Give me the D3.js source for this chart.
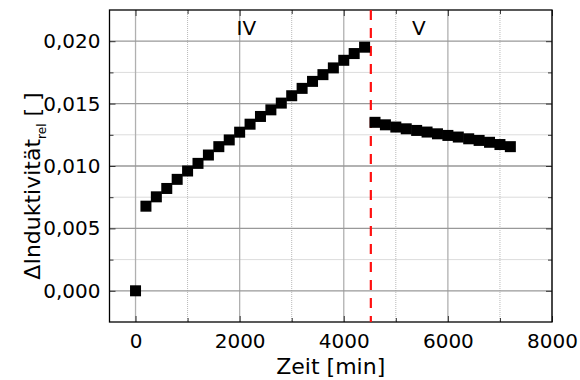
<!DOCTYPE html>
<html>
<head>
<meta charset="utf-8">
<script src="https://cdn.jsdelivr.net/npm/d3@7"></script>
<style>
  body { margin: 0; background: #fff; }
  text { font-family: "DejaVu Sans", Verdana, sans-serif; fill: #000; }
</style>
</head>
<body>
<svg id="chart" width="580" height="380"></svg>
<script>
// Phase IV (rising) and phase V (decaying), time in minutes
const startPoint = [0, 0.0];
const timesIV = [200, 400, 600, 800, 1000, 1200, 1400, 1600, 1800, 2000, 2200,
  2400, 2600, 2800, 3000, 3200, 3400, 3600, 3800, 4000, 4200, 4400];
const valuesIV = [0.00678, 0.00753, 0.00820, 0.00893, 0.00960, 0.01021, 0.01088,
  0.01155, 0.01209, 0.01271, 0.01335, 0.01397, 0.01450, 0.01504, 0.01563, 0.01622,
  0.01678, 0.01732, 0.01786, 0.01847, 0.01901, 0.01952];
const timesV = [4600, 4800, 5000, 5200, 5400, 5600, 5800, 6000, 6200, 6400, 6600, 6800, 7000, 7200];
const valuesV = [0.01350, 0.01330, 0.01312, 0.01298, 0.01285, 0.01272, 0.01258,
  0.01245, 0.01232, 0.01218, 0.01205, 0.01190, 0.01172, 0.01155];
const phaseBoundary = 4520;
const phaseLabels = [{name: "IV", t: 2130}, {name: "V", t: 5440}];
const xTicks = [0, 2000, 4000, 6000, 8000];
const yTicks = [0, 0.005, 0.010, 0.015, 0.020];

const mLeft = 109.5, mRight = 552, mTop = 10, mBottom = 322;
const svg = d3.select("#chart");

const x = d3.scaleLinear().domain([-500, 8000]).range([mLeft, mRight]);
const y = d3.scaleLinear().domain([-0.0025, 0.0225]).range([mBottom, mTop]);

const xMinor = d3.range(0, 8001, 1000).filter(d => !xTicks.includes(d));
const yMinor = [0.0025, 0.0075, 0.0125, 0.0175];
const fmt = d => d3.format(".3f")(d).replace(".", ",");

// minor grid
const grid = svg.append("g");
grid.selectAll(".mx").data(xMinor).enter().append("line")
  .attr("x1", d => x(d)).attr("x2", d => x(d)).attr("y1", mTop).attr("y2", mBottom)
  .attr("stroke", "#b8b8b8").attr("stroke-dasharray", "1,1");
grid.selectAll(".my").data(yMinor).enter().append("line")
  .attr("y1", d => y(d)).attr("y2", d => y(d)).attr("x1", mLeft).attr("x2", mRight)
  .attr("stroke", "#b8b8b8").attr("stroke-dasharray", "1,1");
// major grid
grid.selectAll(".Mx").data(xTicks).enter().append("line")
  .attr("x1", d => x(d)).attr("x2", d => x(d)).attr("y1", mTop).attr("y2", mBottom)
  .attr("stroke", "#b0b0b0").attr("stroke-width", 1.3);
grid.selectAll(".My").data(yTicks).enter().append("line")
  .attr("y1", d => y(d)).attr("y2", d => y(d)).attr("x1", mLeft).attr("x2", mRight)
  .attr("stroke", "#999").attr("stroke-width", 1.3);

// axes with inward ticks on all four sides
function axisPair(axisFn, scale, ticks, minor, transform, labelFmt) {
  const gMaj = svg.append("g").attr("transform", transform)
    .call(axisFn(scale).tickValues(ticks).tickSizeInner(-6).tickSizeOuter(0)
      .tickFormat(labelFmt || ""));
  gMaj.select(".domain").remove();
  gMaj.selectAll("line").attr("stroke", "#333");
  const gMin = svg.append("g").attr("transform", transform)
    .call(axisFn(scale).tickValues(minor).tickSizeInner(-4).tickSizeOuter(0).tickFormat(""));
  gMin.select(".domain").remove();
  gMin.selectAll("line").attr("stroke", "#333");
  return gMaj;
}
const xAx = axisPair(d3.axisBottom, x, xTicks, xMinor, `translate(0,${mBottom})`, d3.format("d"));
xAx.selectAll("text").attr("font-size", 20).attr("y", 7).attr("dy", "0.95em")
  .style("font-family", "DejaVu Sans");
axisPair(d3.axisTop, x, xTicks, xMinor, `translate(0,${mTop})`, null);
const yAx = axisPair(d3.axisLeft, y, yTicks, yMinor, `translate(${mLeft},0)`, fmt);
yAx.selectAll("text").attr("font-size", 20).attr("x", -9)
  .style("font-family", "DejaVu Sans");
axisPair(d3.axisRight, y, yTicks, yMinor, `translate(${mRight},0)`, null);

// frame
svg.append("rect").attr("x", mLeft).attr("y", mTop)
  .attr("width", mRight - mLeft).attr("height", mBottom - mTop)
  .attr("fill", "none").attr("stroke", "#000").attr("stroke-width", 1.3);

// phase boundary
svg.append("line")
  .attr("x1", x(phaseBoundary)).attr("x2", x(phaseBoundary))
  .attr("y1", mTop).attr("y2", mBottom)
  .attr("stroke", "#ff1010").attr("stroke-width", 2.2).attr("stroke-dasharray", "10,8");

svg.selectAll(".phase").data(phaseLabels).enter().append("text")
  .attr("x", d => x(d.t)).attr("y", 35)
  .attr("text-anchor", "middle").attr("font-size", 20).text(d => d.name);

// data markers
const pts = [startPoint]
  .concat(timesIV.map((t, i) => [t, valuesIV[i]]))
  .concat(timesV.map((t, i) => [t, valuesV[i]]));
const s = 11;
svg.append("g").selectAll("rect").data(pts).enter().append("rect")
  .attr("x", d => x(d[0]) - s / 2).attr("y", d => y(d[1]) - s / 2)
  .attr("width", s).attr("height", s).attr("fill", "#000");

// axis titles
svg.append("text").attr("x", (mLeft + mRight) / 2).attr("y", 374)
  .attr("text-anchor", "middle").attr("font-size", 22).text("Zeit [min]");

const yt = svg.append("text")
  .attr("transform", `translate(40,186) rotate(-90)`)
  .attr("text-anchor", "middle").attr("font-size", 22);
yt.append("tspan").text("ΔInduktivität");
yt.append("tspan").attr("font-size", 12).attr("dy", 6).text("rel");
yt.append("tspan").attr("dy", -6).text(" [ ]");
</script>
</body>
</html>
